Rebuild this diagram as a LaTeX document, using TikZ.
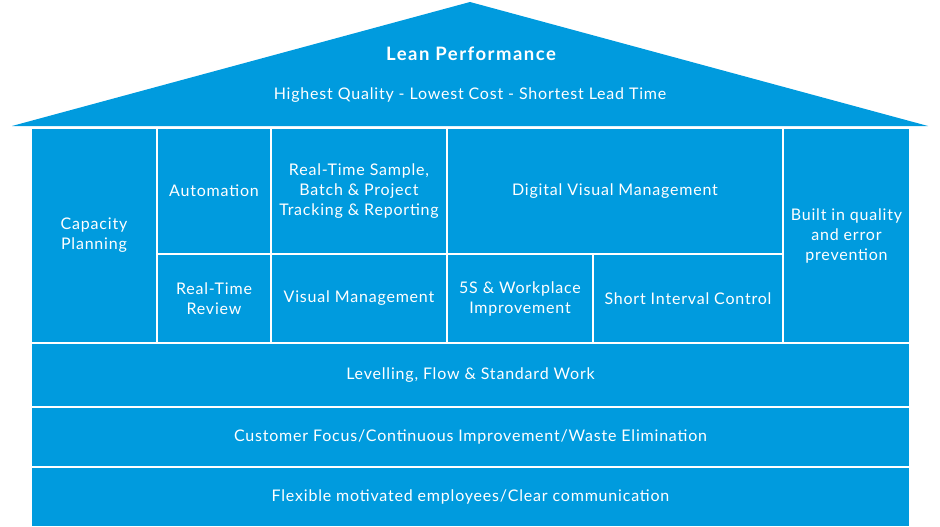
\documentclass[tikz,border=0pt]{standalone}
\usepackage{fontspec}
\setmainfont{Lato}[LetterSpace=5]
\usepackage{tikz}
\usetikzlibrary{positioning}
\definecolor{hblue}{HTML}{009BDE}
\tikzset{
  % blue cell with thin white separators
  cell/.style  = {rectangle, draw=white, line width=1.3pt, fill=hblue, text=white,
                  align=center, inner sep=0pt, font=\fontsize{16}{20}\selectfont},
  rooftxt/.style = {text=white, align=center, inner sep=0pt},
}
\begin{document}
\begin{tikzpicture}[x=1pt,y=-1pt]
\useasboundingbox (0,0) rectangle (940,527);
% roof
\fill[hblue] (12,126) -- (470,2) -- (928,126) -- cycle;
\node[rooftxt, font=\bfseries\addfontfeature{LetterSpace=8}\fontsize{18.5}{20}\selectfont] (title) at (471,54) {Lean Performance};
\node[rooftxt, font=\fontsize{16}{20}\selectfont] (goals) at (470,95.5) {Highest Quality - Lowest Cost - Shortest Lead Time};
% pillars
\node[cell, minimum width=126, minimum height=215] (capa) at (94,235.5) {Capacity\\Planning};
\node[cell, minimum width=114, minimum height=126] (auto) at (214,191) {Automation};
\node[cell, minimum width=176, minimum height=126] (track) at (359,191) {Real-Time Sample,\\Batch \& Project\\Tracking \& Reporting};
\node[cell, minimum width=336, minimum height=126] (dvm) at (615,191) {Digital Visual Management};
\node[cell, minimum width=127, minimum height=215] (qual) at (846.5,235.5) {Built in quality\\and error\\prevention};
\node[cell, minimum width=114, minimum height=89] (review) at (214,298.5) {Real-Time\\Review};
\node[cell, minimum width=176, minimum height=89] (visman) at (359,298.5) {Visual Management};
\node[cell, minimum width=146, minimum height=89] (fives) at (520,298.5) {5S \& Workplace\\Improvement};
\node[cell, minimum width=190, minimum height=89] (sic) at (688,298.5) {Short Interval Control};
% foundation
\node[cell, minimum width=879, minimum height=64] (flow) at (470.5,375) {Levelling, Flow \& Standard Work};
\node[cell, minimum width=879, minimum height=60] (focus) at (470.5,437) {Customer Focus/Continuous Improvement/Waste Elimination};
\node[cell, minimum width=879, minimum height=60] (people) at (470.5,497) {Flexible motivated employees/Clear communication};
\end{tikzpicture}
\end{document}
